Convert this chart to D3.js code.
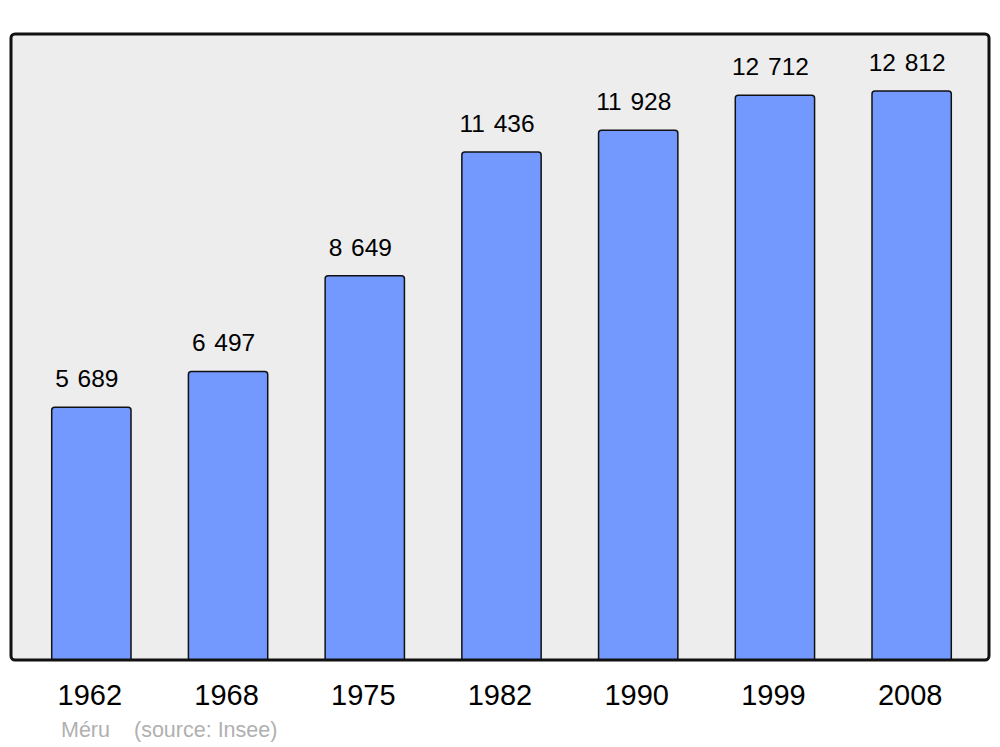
<!DOCTYPE html>
<html lang="fr">
<head>
<meta charset="utf-8">
<title>Méru population</title>
<style>
  body { margin: 0; background: #fff; }
  text { font-family: "Liberation Sans", Arial, sans-serif; }
</style>
</head>
<body>
<svg id="chart"></svg>
<script src="https://d3js.org/d3.v7.min.js"></script>
<script>
const years = ["1962", "1968", "1975", "1982", "1990", "1999", "2008"];
const population = [5689, 6497, 8649, 11436, 11928, 12712, 12812];
const valueLabels = ["5 689", "6 497", "8 649", "11 436", "11 928", "12 712", "12 812"];

const W = 1000, H = 747;
const frame = {left: 11, right: 989, top: 34, bottom: 660};

const svg = d3.select("#chart").attr("width", W).attr("height", H);

// background frame fill
svg.append("rect")
  .attr("x", frame.left).attr("y", frame.top)
  .attr("width", frame.right - frame.left)
  .attr("height", frame.bottom - frame.top)
  .attr("rx", 4)
  .attr("fill", "#ededed");

const x = d3.scaleBand()
  .domain(years)
  .range([23, 980])
  .paddingInner(0.42)
  .paddingOuter(0.21);

const y = d3.scaleLinear()
  .domain([0, d3.max(population) * 1.1])
  .range([frame.bottom, frame.top]);

// bars
svg.selectAll(".bar")
  .data(population)
  .enter()
  .append("rect")
  .attr("class", "bar")
  .attr("x", (d, i) => x(years[i]))
  .attr("y", d => y(d))
  .attr("width", x.bandwidth())
  .attr("height", d => frame.bottom - y(d) + 3)
  .attr("rx", 3)
  .attr("fill", "#7399ff")
  .attr("stroke", "#111")
  .attr("stroke-width", 1.5);

// white below the frame hides the bar feet
svg.append("rect")
  .attr("x", 0).attr("y", frame.bottom)
  .attr("width", W).attr("height", 6)
  .attr("fill", "#fff");

// frame outline on top
svg.append("rect")
  .attr("x", frame.left).attr("y", frame.top)
  .attr("width", frame.right - frame.left)
  .attr("height", frame.bottom - frame.top)
  .attr("rx", 4)
  .attr("fill", "none")
  .attr("stroke", "#111")
  .attr("stroke-width", 3);

// value labels
svg.selectAll(".val")
  .data(population)
  .enter()
  .append("text")
  .attr("class", "val")
  .attr("x", (d, i) => x(years[i]) + x.bandwidth() / 2 - 4.5)
  .attr("y", d => y(d) - 20)
  .attr("text-anchor", "middle")
  .attr("font-size", 24.5)
  .attr("word-spacing", 2)
  .attr("fill", "#000")
  .text((d, i) => valueLabels[i]);

// year axis labels
svg.selectAll(".year")
  .data(years)
  .enter()
  .append("text")
  .attr("class", "year")
  .attr("x", d => x(d) + x.bandwidth() / 2 - 1.5)
  .attr("y", 705)
  .attr("text-anchor", "middle")
  .attr("font-size", 29)
  .attr("fill", "#000")
  .text(d => d);

// footer
svg.append("text")
  .attr("x", 61).attr("y", 737)
  .attr("font-size", 21.5)
  .attr("fill", "#b0b0b0")
  .text("Méru");
svg.append("text")
  .attr("x", 134).attr("y", 737)
  .attr("font-size", 21.5)
  .attr("fill", "#b0b0b0")
  .text("(source: Insee)");
</script>
</body>
</html>
